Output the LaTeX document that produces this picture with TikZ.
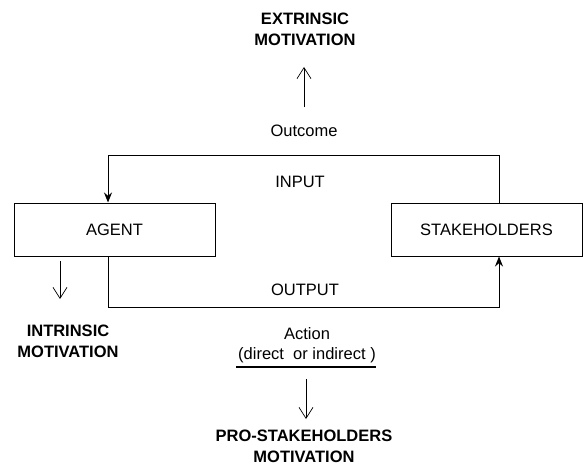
\documentclass[tikz,border=0pt]{standalone}
\usepackage{fontspec}
\setmainfont{Liberation Sans}
\usetikzlibrary{arrows.meta,positioning}
\tikzset{
  box/.style={draw,line width=1pt,minimum width=201pt,minimum height=53pt,inner sep=0pt},
  flow/.style={line width=1pt,-{Stealth[length=10pt,width=8pt]}},
  openarrow/.style={line width=0.7pt,-{Straight Barb[length=11pt,width=14pt,line width=0.7pt]}},
  lbl/.style={font=\fontsize{16.5}{20}\selectfont,inner sep=0pt},
  motiv/.style={font=\fontsize{16.5}{21}\selectfont\bfseries,align=center,inner sep=0pt}
}
\begin{document}
\begin{tikzpicture}[x=1pt,y=1pt]
	\useasboundingbox (0,0) rectangle (583,467);
	\node[box,lbl] (agent) at (114.5,237.5) {AGENT};
	\node[box,lbl,minimum width=191pt] (stake) at (486.5,237.5) {STAKEHOLDERS};
	\coordinate (inr) at (499,312);
	\coordinate (inl) at (108,312);
	\coordinate (outl) at (108,160);
	\coordinate (outr) at (499,160);
	\draw[flow] (stake.north -| inr) -- (inr) -- (inl) -- (agent.north -| inl);
	\draw[flow] (agent.south -| outl) -- (outl) -- (outr) -- (stake.south -| outr);
	\node[lbl] (outcome) at (304,336) {Outcome};
	\node[lbl] (input) at (300,285) {INPUT};
	\node[lbl] (output) at (305,177) {OUTPUT};
	\node[lbl] (action) at (307,133) {Action};
	\node[lbl] (kind) at (307,112) {(direct\ \ or indirect )};
	\node[motiv] (extr) at (305,438) {EXTRINSIC\\MOTIVATION};
	\node[motiv] (intr) at (68,126) {INTRINSIC\\MOTIVATION};
	\node[motiv] (pro) at (304,21) {PRO-STAKEHOLDERS\\MOTIVATION};
	% underline and motivation arrows
	\coordinate (ul) at (236,100);
	\coordinate (ur) at (376,100);
	\draw[line width=1.3pt] (ul) -- (ur);
	\coordinate (ex1) at (304,360);
	\coordinate (ex2) at (304,400);
	\coordinate (in1) at (60,206);
	\coordinate (in2) at (60,168);
	\coordinate (pr1) at (306,88);
	\coordinate (pr2) at (306,48);
	\draw[openarrow] (ex1) -- (ex2);
	\draw[openarrow] (in1) -- (in2);
	\draw[openarrow] (pr1) -- (pr2);
\end{tikzpicture}
\end{document}
